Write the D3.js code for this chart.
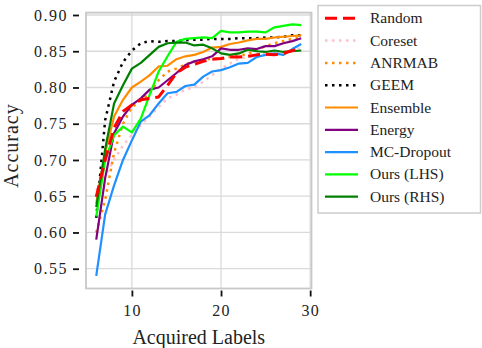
<!DOCTYPE html>
<html><head><meta charset="utf-8">
<script src="https://cdn.jsdelivr.net/npm/d3@7"></script>
<style>
body{margin:0;background:#fff;}
svg{display:block;}
</style></head><body>
<svg id="c" width="482" height="348"></svg>
<script>
const labels = [6,7,8,9,10,11,12,13,14,15,16,17,18,19,20,21,22,23,24,25,26,27,28,29];
const xTicks = [10,20,30];
const yTicks = [0.55,0.60,0.65,0.70,0.75,0.80,0.85,0.90];
const seriesNames = ["Random","Coreset","ANRMAB","GEEM","Ensemble","Energy","MC-Dropout","Ours (LHS)","Ours (RHS)"];
const random   = [0.649,0.700,0.744,0.767,0.776,0.783,0.785,0.787,0.803,0.820,0.828,0.832,0.836,0.839,0.840,0.842,0.842,0.843,0.845,0.846,0.845,0.847,0.851,0.853];
const coreset  = [0.658,0.678,0.700,0.720,0.735,0.748,0.760,0.773,0.785,0.790,0.797,0.800,0.808,0.817,0.826,0.833,0.840,0.842,0.845,0.847,0.848,0.849,0.852,0.854];
const anrmab   = [0.600,0.645,0.710,0.750,0.773,0.782,0.792,0.810,0.822,0.826,0.832,0.836,0.838,0.840,0.840,0.842,0.844,0.846,0.852,0.857,0.861,0.864,0.867,0.869];
const geem     = [0.620,0.755,0.808,0.835,0.851,0.861,0.864,0.863,0.864,0.864,0.865,0.866,0.866,0.867,0.867,0.867,0.868,0.868,0.868,0.869,0.869,0.870,0.872,0.872];
const ensemble = [0.640,0.710,0.760,0.783,0.800,0.808,0.817,0.829,0.830,0.839,0.843,0.845,0.849,0.855,0.856,0.860,0.862,0.865,0.867,0.867,0.869,0.870,0.871,0.872];
const energy   = [0.590,0.675,0.737,0.760,0.776,0.785,0.797,0.800,0.810,0.820,0.831,0.836,0.839,0.843,0.854,0.852,0.852,0.854,0.853,0.857,0.857,0.861,0.864,0.868];
const mcdrop   = [0.540,0.625,0.665,0.700,0.727,0.753,0.762,0.778,0.792,0.794,0.802,0.804,0.815,0.822,0.824,0.828,0.833,0.834,0.842,0.845,0.847,0.845,0.853,0.860];
const oursLHS  = [0.622,0.700,0.734,0.746,0.738,0.757,0.790,0.822,0.843,0.863,0.867,0.868,0.869,0.868,0.878,0.876,0.876,0.877,0.877,0.876,0.883,0.885,0.887,0.886];
const oursRHS  = [0.635,0.715,0.778,0.803,0.826,0.834,0.845,0.856,0.861,0.862,0.862,0.858,0.859,0.854,0.847,0.845,0.847,0.852,0.850,0.849,0.851,0.849,0.850,0.851];

const series = [
  {name:seriesNames[0], values:random,   color:"#ff0000", dash:"12,6", w:3},
  {name:seriesNames[1], values:coreset,  color:"#ffc0cb", dash:"2.5,4.5", w:2.5},
  {name:seriesNames[2], values:anrmab,   color:"#ff8c00", dash:"2.5,4.5", w:2.5},
  {name:seriesNames[3], values:geem,     color:"#000000", dash:"2.5,4.5", w:2.5},
  {name:seriesNames[4], values:ensemble, color:"#ff8c00", dash:null, w:2.2},
  {name:seriesNames[5], values:energy,   color:"#800080", dash:null, w:2.2},
  {name:seriesNames[6], values:mcdrop,   color:"#1e90ff", dash:null, w:2.2},
  {name:seriesNames[7], values:oursLHS,  color:"#00ff00", dash:null, w:2.2},
  {name:seriesNames[8], values:oursRHS,  color:"#008000", dash:null, w:2.2}
];

const FONT = "'Liberation Serif', 'Times New Roman', Tinos, 'DejaVu Serif', serif";
const svg = d3.select("#c");
const L=86, R=311.5, T=12.6, B=288.5;
const x = d3.scaleLinear().domain([4.85,30.15]).range([L,R]);
const y = d3.scaleLinear().domain([0.5227,0.9033]).range([B,T]);

// grid
const g = svg.append("g");
g.selectAll(".gx").data(xTicks).enter().append("line")
  .attr("x1",d=>x(d)).attr("x2",d=>x(d)).attr("y1",T).attr("y2",B)
  .attr("stroke","#dadada").attr("stroke-width",1.3);
g.selectAll(".gy").data(yTicks).enter().append("line")
  .attr("x1",L).attr("x2",R).attr("y1",d=>y(d)).attr("y2",d=>y(d))
  .attr("stroke","#dadada").attr("stroke-width",1.3);

// lines
const line = d3.line().x((d,i)=>x(labels[i])).y(d=>y(d));
const drawOrder = [1,2,3,4,5,6,7,8,0];
const lg = svg.append("g");
drawOrder.forEach(k=>{
  const s = series[k];
  lg.append("path").datum(s.values).attr("d",line)
    .attr("fill","none").attr("stroke",s.color).attr("stroke-width",s.w)
    .attr("stroke-dasharray",s.dash).attr("stroke-linejoin","round");
});

// frame
svg.append("rect").attr("x",L).attr("y",T).attr("width",R-L).attr("height",B-T)
  .attr("fill","none").attr("stroke","#c8c8c8").attr("stroke-width",1.8);

// axes
const xAxis = d3.axisBottom(x).tickValues(xTicks).tickSize(6).tickPadding(8).tickFormat(d3.format("d"));
const xa = svg.append("g").attr("transform",`translate(0,${B+2})`).call(xAxis);
xa.select(".domain").remove();
xa.selectAll("line").attr("stroke","#111").attr("stroke-width",1.8);
xa.selectAll("text").attr("font-size",16).attr("letter-spacing",1.2);

const yAxis = d3.axisLeft(y).tickValues(yTicks).tickSize(6).tickPadding(5).tickFormat(d3.format(".2f"));
const ya = svg.append("g").attr("transform",`translate(${L-7},0)`).call(yAxis);
ya.select(".domain").remove();
ya.selectAll("line").attr("stroke","#111").attr("stroke-width",1.8);
ya.selectAll("text").attr("font-size",16).attr("letter-spacing",1.5);
xa.attr("font-family",null); ya.attr("font-family",null);

svg.append("text").attr("x",(L+R)/2).attr("y",344).attr("text-anchor","middle")
  .attr("font-size",20).text("Acquired Labels");
svg.append("text").attr("transform",`translate(18,${(T+B)/2-5}) rotate(-90)`).attr("text-anchor","middle")
  .attr("font-size",20).attr("letter-spacing",1).text("Accuracy");

// legend
const lgd = svg.append("g");
lgd.append("rect").attr("x",318).attr("y",5.5).attr("width",162.5).attr("height",207.5)
  .attr("fill","#fff").attr("stroke","#cccccc").attr("stroke-width",1.5);
series.forEach((s,i)=>{
  const cy = 18.3 + i*22.3;
  lgd.append("line").attr("x1",325).attr("x2",358).attr("y1",cy).attr("y2",cy)
    .attr("stroke",s.color).attr("stroke-width",s.w).attr("stroke-dasharray",s.dash);
  lgd.append("text").attr("x",370).attr("y",cy+5).attr("font-size",15.5).text(s.name);
});

svg.selectAll("text").style("font-family",FONT).style("fill","#222");
</script></body></html>
